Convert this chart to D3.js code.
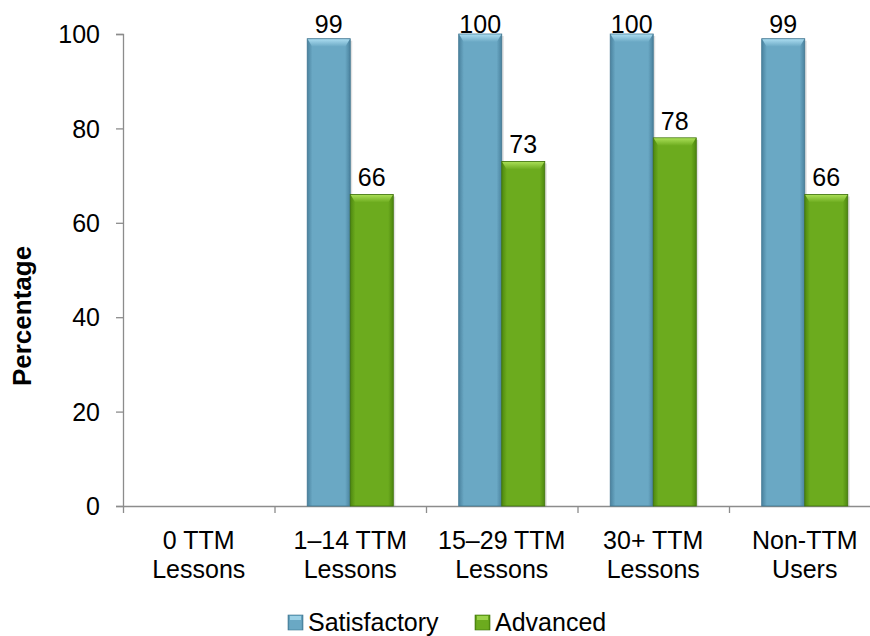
<!DOCTYPE html>
<html lang="en">
<head>
    <meta charset="UTF-8">
    <title>TTM Lessons Chart</title>
    <style>
        body { margin: 0; background: #fff; }
        svg text { font-family: "Liberation Sans", Arial, sans-serif; fill: #000; }
    </style>
</head>
<body>
    <div id="chart"></div>

    <script src="https://cdn.jsdelivr.net/npm/d3@7"></script>
    <script>
        const w = 870;
        const h = 636;

        // data
        const categories = [["0 TTM", "Lessons"], ["1–14 TTM", "Lessons"], ["15–29 TTM", "Lessons"], ["30+ TTM", "Lessons"], ["Non-TTM", "Users"]];
        const seriesNames = ["Satisfactory", "Advanced"];
        const satisfactory = [null, 99, 100, 100, 99];
        const advanced = [null, 66, 73, 78, 66];
        const yTicks = [0, 20, 40, 60, 80, 100];

        const colors = {
            Satisfactory: { main: "#6aa8c4", edge: "#4a829e", light: "#a9dbef", dark: "#3f7590" },
            Advanced: { main: "#6cab1e", edge: "#4d870f", light: "#a8dd55", dark: "#3f730a" }
        };

        const plot = { left: 123, right: 880.5, top: 34, bottom: 506 };

        const svg = d3.select('#chart')
            .append('svg')
            .attr('width', w)
            .attr('height', h);

        const defs = svg.append('defs');
        seriesNames.forEach(name => {
            const c = colors[name];
            const g = defs.append('linearGradient')
                .attr('id', 'grad-' + name)
                .attr('x1', 0).attr('x2', 1).attr('y1', 0).attr('y2', 0);
            g.append('stop').attr('offset', '0%').attr('stop-color', c.edge);
            g.append('stop').attr('offset', '12%').attr('stop-color', c.main);
            g.append('stop').attr('offset', '88%').attr('stop-color', c.main);
            g.append('stop').attr('offset', '100%').attr('stop-color', c.edge);
            const t = defs.append('linearGradient')
                .attr('id', 'top-' + name)
                .attr('x1', 0).attr('x2', 0).attr('y1', 0).attr('y2', 1);
            t.append('stop').attr('offset', '0%').attr('stop-color', c.light);
            t.append('stop').attr('offset', '100%').attr('stop-color', c.main);
        });

        const x0 = d3.scaleBand()
            .domain(d3.range(categories.length))
            .range([plot.left, plot.right])
            .paddingInner(0)
            .paddingOuter(0);

        const x1 = d3.scaleBand()
            .domain(seriesNames)
            .range([0, x0.bandwidth()])
            .paddingInner(0)
            .paddingOuter(0.76);

        const y = d3.scaleLinear()
            .domain([0, 100])
            .range([plot.bottom, plot.top]);

        // x axis: ticks on category boundaries
        const xEdges = d3.scaleLinear()
            .domain([0, categories.length])
            .range([plot.left, plot.right]);

        const xAxis = svg.append('g')
            .attr('transform', `translate(0,${plot.bottom})`)
            .call(d3.axisBottom(xEdges).tickValues(d3.range(categories.length + 1)).tickFormat('').tickSize(7).tickSizeOuter(0));
        xAxis.selectAll('path, line').attr('stroke', '#8c8c8c').attr('stroke-width', 1.3);

        const yAxis = svg.append('g')
            .attr('transform', `translate(${plot.left},0)`)
            .call(d3.axisLeft(y).tickValues(yTicks).tickSize(7).tickSizeOuter(7).tickPadding(16));
        yAxis.selectAll('path, line').attr('stroke', '#8c8c8c').attr('stroke-width', 1.3);
        yAxis.selectAll('text')
            .style('font-family', '"Liberation Sans", Arial, sans-serif')
            .style('font-size', '25px')
            .attr('dy', '0.35em');

        // category labels
        const catLabels = svg.append('g')
            .selectAll('text')
            .data(categories)
            .enter()
            .append('text')
            .attr('text-anchor', 'middle')
            .attr('x', (d, i) => x0(i) + x0.bandwidth() / 2)
            .attr('y', 549)
            .style('font-size', '25px');
        catLabels.append('tspan')
            .attr('x', (d, i) => x0(i) + x0.bandwidth() / 2)
            .text(d => d[0]);
        catLabels.append('tspan')
            .attr('x', (d, i) => x0(i) + x0.bandwidth() / 2)
            .attr('dy', 29)
            .text(d => d[1]);

        // bars
        const rows = [];
        categories.forEach((c, i) => {
            rows.push({ i: i, series: 'Satisfactory', value: satisfactory[i] });
            rows.push({ i: i, series: 'Advanced', value: advanced[i] });
        });
        const bars = rows.filter(d => d.value !== null);

        const barG = svg.append('g')
            .selectAll('g')
            .data(bars)
            .enter()
            .append('g')
            .attr('transform', d => `translate(${x0(d.i) + x1(d.series)},0)`);

        // soft shadow on the right
        barG.append('rect')
            .attr('x', 2)
            .attr('y', d => y(d.value) + 2)
            .attr('width', x1.bandwidth())
            .attr('height', d => y(0) - y(d.value) - 2)
            .attr('fill', '#000')
            .attr('opacity', 0.12);

        barG.append('rect')
            .attr('x', 0)
            .attr('y', d => y(d.value))
            .attr('width', x1.bandwidth())
            .attr('height', d => y(0) - y(d.value))
            .attr('fill', d => `url(#grad-${d.series})`)
            .attr('stroke', d => colors[d.series].dark)
            .attr('stroke-width', 0.8);

        // bevel on top
        barG.append('path')
            .attr('d', d => {
                const t = y(d.value);
                const bw = x1.bandwidth();
                return `M0.5,${t + 0.5} L${bw - 0.5},${t + 0.5} L${bw - 5},${t + 8} L5,${t + 8} Z`;
            })
            .attr('fill', d => `url(#top-${d.series})`);

        // value labels (kept inside the plot top)
        svg.append('g')
            .selectAll('text')
            .data(bars)
            .enter()
            .append('text')
            .attr('text-anchor', 'middle')
            .attr('x', d => x0(d.i) + x1(d.series) + x1.bandwidth() / 2)
            .attr('y', d => Math.max(y(d.value) - 8, 33))
            .style('font-size', '25px')
            .text(d => d.value);

        // y title
        svg.append('text')
            .attr('transform', 'translate(31,316) rotate(-90)')
            .attr('text-anchor', 'middle')
            .style('font-size', '26px')
            .style('font-weight', 'bold')
            .text('Percentage');

        // legend
        const legendX = [288, 475];
        const legend = svg.append('g')
            .selectAll('g')
            .data(seriesNames)
            .enter()
            .append('g')
            .attr('transform', (d, i) => `translate(${legendX[i]},615)`);
        legend.append('rect')
            .attr('width', 15)
            .attr('height', 15)
            .attr('fill', d => `url(#grad-${d})`)
            .attr('stroke', d => colors[d].dark)
            .attr('stroke-width', 0.6);
        legend.append('rect')
            .attr('x', 2).attr('y', 1)
            .attr('width', 11).attr('height', 4)
            .attr('fill', d => colors[d].light)
            .attr('opacity', 0.8);
        legend.append('text')
            .attr('x', 20)
            .attr('y', 16)
            .style('font-size', '25px')
            .text(d => d);
    </script>
</body>
</html>
